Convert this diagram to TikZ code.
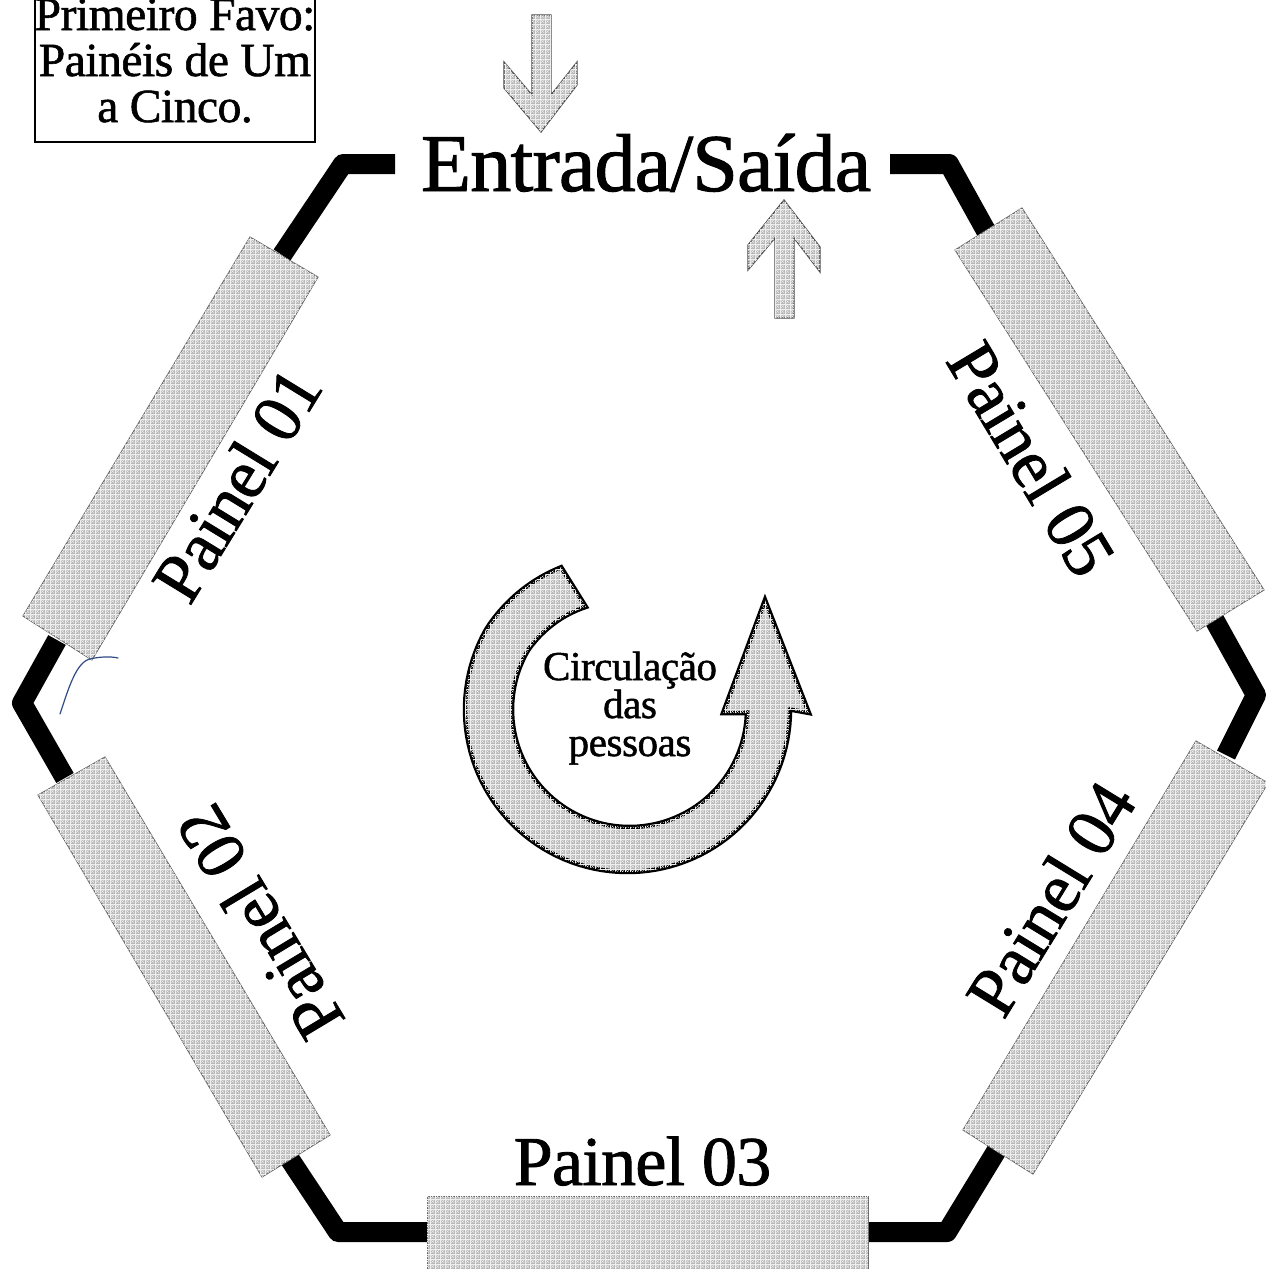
\documentclass[tikz,border=0pt]{standalone}
\usepackage{fontspec}
\setmainfont{Liberation Serif}[FakeBold=1.2,LetterSpace=-1]
\usetikzlibrary{patterns}
\definecolor{panelgray}{HTML}{B9B9B9}
\definecolor{dithergray}{HTML}{EEEEEE}
\definecolor{inkpen}{HTML}{2F4A86}
\pgfdeclarepatternformonly{dither}{\pgfqpoint{-1pt}{-1pt}}{\pgfqpoint{6pt}{6pt}}{\pgfqpoint{5pt}{5pt}}{%
  \pgfsetlinewidth{0.9pt}%
  \pgfpathmoveto{\pgfqpoint{0pt}{0pt}}\pgfpathlineto{\pgfqpoint{5pt}{0pt}}%
  \pgfpathmoveto{\pgfqpoint{0pt}{0pt}}\pgfpathlineto{\pgfqpoint{0pt}{5pt}}%
  \pgfusepath{stroke}%
  \pgfsetlinewidth{0.35pt}%
  \pgfpathmoveto{\pgfqpoint{1pt}{1pt}}\pgfpathlineto{\pgfqpoint{4pt}{4pt}}%
  \pgfpathmoveto{\pgfqpoint{1pt}{4pt}}\pgfpathlineto{\pgfqpoint{4pt}{1pt}}%
  \pgfusepath{stroke}%
}
\tikzset{
  x=1pt,y=-1pt,
  hatched/.style={fill=panelgray,postaction={pattern=dither,pattern color=dithergray}},
  panelshape/.style={hatched,draw=black!60,line width=1pt,line join=miter},
  wall/.style={draw=black,line width=20pt,line join=round},
  flowarrow/.style={hatched,draw=black,line width=4.5pt,line join=miter},
  smallarrow/.style={hatched,draw=black!70,line width=1.2pt},
  panellabel/.style={inner sep=0pt,anchor=base,font=\fontsize{70}{70}\selectfont},
}
\begin{document}
\begin{tikzpicture}
\useasboundingbox (0,0) rectangle (1266,1269);
\clip (0,0) rectangle (1266,1269);
\fill[white] (0,0) rectangle (1266,1269);

% hexagon walls
\draw[wall] (395,164) -- (343,164) -- (282,255);
\draw[wall] (890,164) -- (949,164) -- (990,238);
\draw[wall] (57,640) -- (22,703) -- (65,778);
\draw[wall] (1210,612) -- (1256,695) -- (1226,755);
\draw[wall] (285,1152) -- (338,1232) -- (430,1232);
\draw[wall] (865,1232) -- (947,1232) -- (1000,1145);

% panels
\draw[panelshape] (250,237) -- (318,277) -- (92,660) -- (23,616) -- cycle;
\draw[panelshape] (105,757) -- (330,1135) -- (262,1177) -- (38,795) -- cycle;
\draw[panelshape] (427,1196) -- (868,1196) -- (868,1280) -- (427,1280) -- cycle;
\draw[panelshape] (1196,741) -- (1268,783) -- (1033,1174) -- (963,1130) -- cycle;
\draw[panelshape] (955,250) -- (1022,208) -- (1264,590) -- (1197,631) -- cycle;

% panel labels
\node[panellabel,rotate=58.5] (p1) at (257,497) {Painel 01};
\node[panellabel,rotate=121] (p2) at (280,910) {Painel 02};
\node[panellabel] (p3) at (642.5,1185) {Painel 03};
\node[panellabel,rotate=58.5] (p4) at (1071,911) {Painel 04};
\node[panellabel,rotate=-59] (p5) at (1011,471) {Painel 05};

% title box
\draw[line width=1.7pt] (35,-5) -- (35,142) -- (315,142) -- (315,-5);
\node[inner sep=0pt,align=center,anchor=base,font=\fontsize{47.5}{46}\selectfont] (fav) at (175,122)
  {Primeiro Favo:\\Painéis de Um\\a Cinco.};

% entrance
\node[inner sep=0pt,anchor=base,font=\fontsize{82}{82}\selectfont] (ent) at (646,191) {Entrada/Saída};

% small arrows
\draw[smallarrow] (532,15) -- (551,15) -- (551,95) -- (577,62) -- (577,85) -- (541,132)
  -- (504,88) -- (504,62) -- (532,95) -- cycle;
\draw[smallarrow] (784,200) -- (820,247) -- (820,272) -- (794,238) -- (794,318) -- (775,318)
  -- (775,238) -- (748,270) -- (748,245) -- cycle;

% circular arrow
\draw[flowarrow]
  plot[domain=115:360,samples=90] ({627.5+(162.5-5.5*max(0,(150-\x)/35))*cos(\x)},{709.5-(162.5-5.5*max(0,(150-\x)/35))*sin(\x)})
  -- (809,713) -- (765,600) -- (723,713) -- (747,713)
  -- plot[domain=360:113,samples=90] ({629.5+(117.5-6*max(0,(150-\x)/37))*cos(\x)},{709.5-(117.5-6*max(0,(150-\x)/37))*sin(\x)})
  -- cycle;
\node[inner sep=0pt,align=center,anchor=base,font=\fontsize{41}{38}\selectfont] (circ) at (630,756)
  {Circulação\\das\\pessoas};

% pen mark
\draw[inkpen,line width=1.2pt,line cap=round] (60,714) .. controls (68,690) and (76,662) .. (90,659)
  .. controls (98,657) and (110,656) .. (118,658);
\end{tikzpicture}
\end{document}
